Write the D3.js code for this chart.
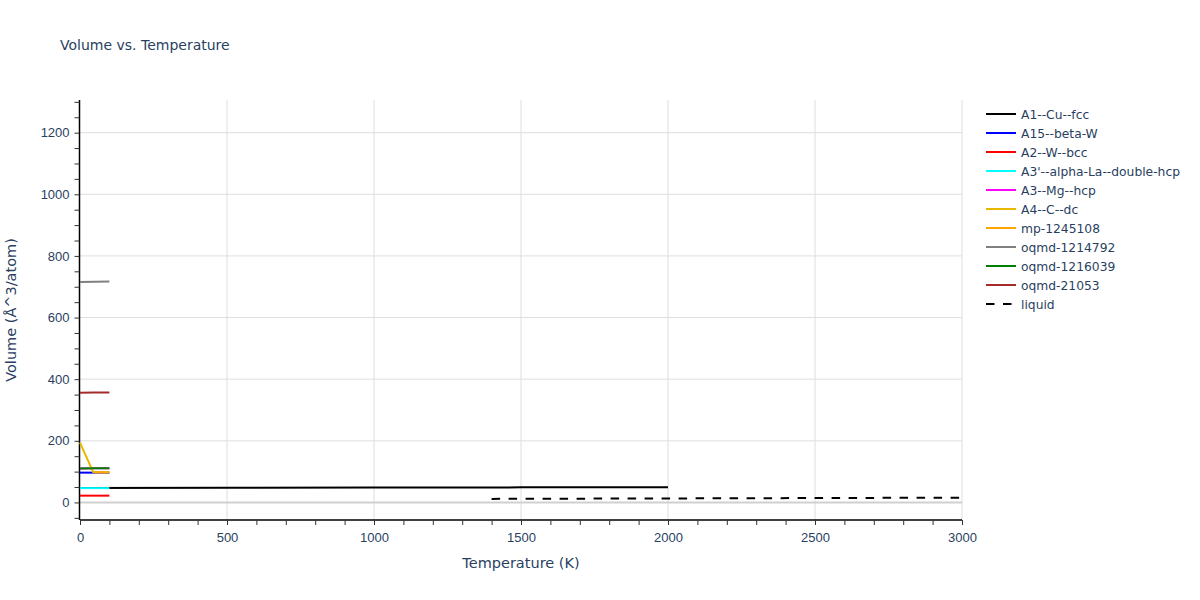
<!DOCTYPE html>
<html>
<head>
<meta charset="utf-8">
<script src="https://cdn.jsdelivr.net/npm/d3@7"></script>
<style>
  body { margin: 0; background: #fff; }
  svg { font-family: "DejaVu Sans", verdana, arial, sans-serif; }
</style>
</head>
<body>
<svg id="chart" width="1200" height="600"></svg>
<script>
// series, in legend order (later ones drawn on top)
var seriesNames = ["A1--Cu--fcc", "A15--beta-W", "A2--W--bcc", "A3'--alpha-La--double-hcp",
    "A3--Mg--hcp", "A4--C--dc", "mp-1245108", "oqmd-1214792", "oqmd-1216039", "oqmd-21053", "liquid"];
var seriesColors = ["black", "blue", "red", "cyan", "magenta", "#e6b800", "orange", "gray", "green", "brown", "black"];

var tA1 = [0, 500, 1000, 1500, 2000];
var vA1 = [47.2, 47.7, 48.3, 48.9, 49.5];
var tLow = [0, 50, 100];
var vA15 = [96.7, 96.7, 96.7];
var vA2 = [22, 22, 22];
var vA3p = [46.5, 46.5, 46.5];
var vA3 = [110.5, 110.8, 111];
var tA4 = [0, 45, 100];
var vA4 = [194, 98, 98];
var tMp = [50, 100];
var vMp = [97.5, 97.5];
var vQ1214792 = [715, 716, 717];
var vQ1216039 = [110.5, 110.8, 111];
var vQ21053 = [356, 356.5, 357];
var tLiq = [1400, 1800, 2200, 2600, 3000];
var vLiq = [11.5, 12.5, 13.5, 14.5, 15.5];

var seriesT = [tA1, tLow, tLow, tLow, tLow, tA4, tMp, tLow, tLow, tLow, tLiq];
var seriesV = [vA1, vA15, vA2, vA3p, vA3, vA4, vMp, vQ1214792, vQ1216039, vQ21053, vLiq];

var xTicks = [0, 500, 1000, 1500, 2000, 2500, 3000];
var yTicks = [0, 200, 400, 600, 800, 1000, 1200];

var svg = d3.select("#chart");
var pLeft = 80, pRight = 962, pTop = 100, pBottom = 520;
var textColor = "#2a3f5f";

var x = d3.scaleLinear().domain([0, 3000]).range([pLeft, pRight]);
var y = d3.scaleLinear().domain([-57, 1306]).range([pBottom, pTop]);

// grid
var grid = svg.append("g");
grid.selectAll("line.gx").data(xTicks.filter(d => d > 0)).enter().append("line")
    .attr("x1", d => x(d)).attr("x2", d => x(d))
    .attr("y1", pTop).attr("y2", pBottom)
    .attr("stroke", "#dedede").attr("stroke-width", 1);
grid.selectAll("line.gy").data(yTicks).enter().append("line")
    .attr("x1", pLeft).attr("x2", pRight)
    .attr("y1", d => y(d)).attr("y2", d => y(d))
    .attr("stroke", d => d == 0 ? "#d0d0d0" : "#dedede")
    .attr("stroke-width", d => d == 0 ? 2 : 1);

// axes
var xAxis = d3.axisBottom(x).tickValues(d3.range(0, 3001, 100))
    .tickSize(5).tickFormat(d => xTicks.indexOf(d) >= 0 ? d : "");
var gx = svg.append("g").attr("transform", "translate(0," + pBottom + ")").call(xAxis);
var yAxis = d3.axisLeft(y).tickValues(d3.range(-50, 1301, 50))
    .tickSize(5).tickFormat(d => yTicks.indexOf(d) >= 0 ? d : "");
var gy = svg.append("g").attr("transform", "translate(" + (pLeft - 0.5) + ",0)").call(yAxis);

[gx, gy].forEach(function(g) {
    g.select(".domain").attr("stroke", "black").attr("stroke-width", 1.5);
    g.selectAll(".tick line").attr("stroke", "#333");
    g.selectAll(".tick text").attr("fill", textColor).style("font-size", "13px");
});
gx.select(".domain").attr("d", "M" + pLeft + ",0H" + pRight);
gy.select(".domain").attr("d", "M0," + pTop + "V" + pBottom);
gx.selectAll(".tick text").attr("dy", "1.1em");
gy.selectAll(".tick text").attr("dx", "-0.15em");

// lines
var line = d3.line().x(d => x(d[0])).y(d => y(d[1]));
var plot = svg.append("g");
seriesNames.forEach(function(name, i) {
    var pts = seriesT[i].map((t, j) => [t, seriesV[i][j]]);
    plot.append("path")
        .datum(pts)
        .attr("d", line)
        .attr("fill", "none")
        .attr("stroke", seriesColors[i])
        .attr("stroke-width", 2)
        .attr("stroke-dasharray", name == "liquid" ? "8.5,8.5" : null);
});

// title + axis titles
svg.append("text").attr("x", 60).attr("y", 50)
    .attr("fill", textColor).style("font-size", "14px")
    .text("Volume vs. Temperature");
svg.append("text").attr("x", (pLeft + pRight) / 2).attr("y", 568)
    .attr("text-anchor", "middle").attr("fill", textColor).style("font-size", "14.5px")
    .text("Temperature (K)");
svg.append("text")
    .attr("transform", "translate(16," + ((pTop + pBottom) / 2) + ") rotate(-90)")
    .attr("text-anchor", "middle").attr("fill", textColor).style("font-size", "14.5px")
    .text("Volume (Å^3/atom)");

// legend
var legend = svg.append("g").attr("transform", "translate(986,114)");
seriesNames.forEach(function(name, i) {
    var row = legend.append("g").attr("transform", "translate(0," + (i * 19) + ")");
    row.append("line").attr("x1", 0).attr("x2", 30)
        .attr("stroke", seriesColors[i]).attr("stroke-width", 2)
        .attr("stroke-dasharray", name == "liquid" ? "8.5,8.5" : null);
    row.append("text").attr("x", 35).attr("y", 4.5)
        .attr("fill", textColor).style("font-size", "12.3px")
        .text(name);
});
</script>
</body>
</html>
